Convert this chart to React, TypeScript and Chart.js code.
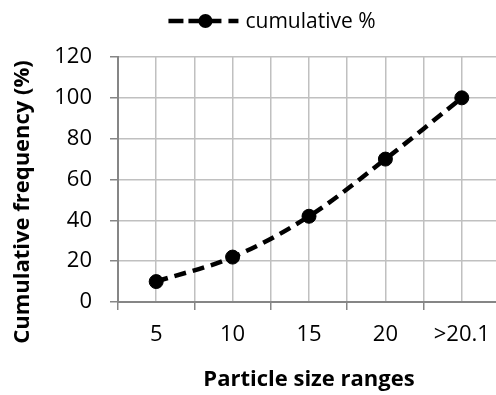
import React, { useEffect, useRef } from 'react';
import { Chart, registerables } from 'chart.js';

Chart.register(...registerables);

const categories = ['5', '10', '15', '20', '>20.1'];
const cumulativePercent = [10, 22, 42, 70, 100];
const yTickValues = [0, 20, 40, 60, 80, 100, 120];
const seriesLabel = 'cumulative %';
const xTitle = 'Particle size ranges';
const yTitle = 'Cumulative frequency (%)';

const FONT = "'Open Sans'";
const CANVAS_W = 544;
const CANVAS_H = 395;

const overlayPlugin = {
  id: 'excelOverlay',
  afterDraw(chart: any) {
    const ctx = chart.ctx as CanvasRenderingContext2D;
    ctx.save();
    // legend
    ctx.font = `21px ${FONT}`;
    const tw = ctx.measureText(seriesLabel).width;
    const lineW = 70;
    const gap = 7;
    const total = lineW + gap + tw;
    const x0 = chart.width / 2 - total / 2;
    const y = 21;
    ctx.strokeStyle = '#000';
    ctx.lineWidth = 4.5;
    ctx.lineCap = 'butt';
    const segs = [[0, 15], [20, 53], [60, 70]];
    for (const [a, b] of segs) {
      ctx.beginPath();
      ctx.moveTo(x0 + a, y);
      ctx.lineTo(x0 + b, y);
      ctx.stroke();
    }
    ctx.beginPath();
    ctx.fillStyle = '#000';
    ctx.arc(x0 + 37, y, 7, 0, Math.PI * 2);
    ctx.fill();
    ctx.textAlign = 'left';
    ctx.textBaseline = 'middle';
    ctx.fillText(seriesLabel, x0 + lineW + gap, y + 1);

    // y-axis title
    ctx.font = `bold 22px ${FONT}`;
    ctx.translate(23, 202);
    ctx.rotate(-Math.PI / 2);
    ctx.textAlign = 'center';
    ctx.textBaseline = 'middle';
    ctx.fillText(yTitle, 0, 0);
    ctx.restore();
  },
};

export default function App() {
  const canvasRef = useRef<HTMLCanvasElement | null>(null);

  useEffect(() => {
    if (!canvasRef.current) return;
    const chart = new Chart(canvasRef.current, {
      type: 'line',
      data: {
        datasets: [
          {
            label: seriesLabel,
            data: cumulativePercent.map((v, i) => ({ x: i + 1, y: v })),
            borderColor: '#000',
            backgroundColor: '#000',
            borderWidth: 4.5,
            borderDash: [12, 7],
            tension: 0.35,
            pointRadius: 7,
            pointBorderWidth: 1,
            pointBackgroundColor: '#000',
            pointBorderColor: '#000',
            fill: false,
          },
        ],
      },
      options: {
        animation: false,
        responsive: false,
        devicePixelRatio: 1,
        layout: { padding: { top: 57, right: CANVAS_W - 500, left: 0, bottom: 0 } },
        plugins: {
          legend: { display: false },
          tooltip: { enabled: false },
        },
        scales: {
          x: {
            type: 'linear',
            min: 0.5,
            max: categories.length + 0.5,
            afterFit: (scale: any) => {
              scale.height = CANVAS_H - 302;
            },
            afterBuildTicks: (scale: any) => {
              const t = [];
              for (let i = 0; i <= categories.length; i++) {
                t.push({ value: i + 0.5 });
                if (i < categories.length) t.push({ value: i + 1 });
              }
              scale.ticks = t;
            },
            ticks: {
              autoSkip: false,
              maxRotation: 0,
              padding: 12,
              color: '#000',
              font: { family: FONT, size: 22 },
              callback: (v: any) => {
                const n = Number(v);
                return Number.isInteger(n) ? categories[n - 1] : '';
              },
            },
            grid: {
              color: '#c0c0c0',
              lineWidth: 1.5,
              tickLength: 8,
              tickWidth: 1.5,
              tickColor: (c: any) =>
                c.tick && Number.isInteger(c.tick.value) ? 'rgba(0,0,0,0)' : '#868686',
            },
            border: { color: '#868686', width: 2 },
            title: {
              display: true,
              text: xTitle,
              color: '#000',
              font: { family: FONT, size: 22, weight: 'bold' },
              padding: { top: 0, bottom: 2 },
            },
          },
          y: {
            type: 'linear',
            min: yTickValues[0],
            max: yTickValues[yTickValues.length - 1],
            afterFit: (scale: any) => {
              scale.width = 118;
            },
            afterBuildTicks: (scale: any) => {
              scale.ticks = yTickValues.map((v) => ({ value: v }));
            },
            ticks: {
              padding: 18,
              color: '#000',
              font: { family: FONT, size: 22 },
            },
            grid: {
              color: '#c0c0c0',
              lineWidth: 1.5,
              tickLength: 8,
              tickWidth: 1.5,
              tickColor: '#868686',
            },
            border: { color: '#868686', width: 2 },
          },
        },
      },
      plugins: [overlayPlugin],
    } as any);
    return () => chart.destroy();
  }, []);

  return (
    <div
      style={{
        position: 'fixed',
        left: 0,
        top: 0,
        width: 496,
        height: 395,
        overflow: 'hidden',
        background: '#fff',
      }}
    >
      <canvas ref={canvasRef} width={CANVAS_W} height={CANVAS_H} style={{ display: 'block' }} />
    </div>
  );
}
